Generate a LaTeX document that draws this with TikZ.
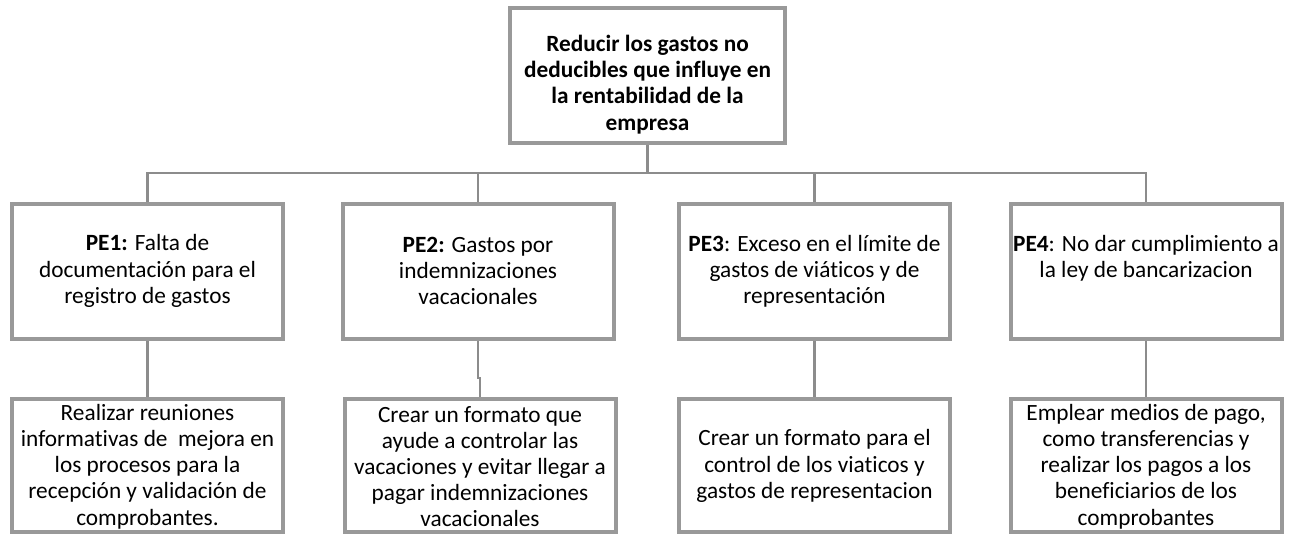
\documentclass[tikz,border=0pt]{standalone}
\usepackage{fontspec}
\setmainfont{Carlito}[Ligatures=NoCommon]
\definecolor{boxgray}{HTML}{999999}
\definecolor{linegray}{HTML}{8C8C8C}
\begin{document}
\begin{tikzpicture}[x=1pt,y=1pt,
  box/.style={draw=boxgray, line width=4pt, inner sep=0pt,
    minimum width=271pt, minimum height=133pt},
  txt/.style={align=center, inner sep=0pt, font=\fontsize{23.3}{26.2}\selectfont},
  conn/.style={draw=linegray, line width=2.5pt}]
\useasboundingbox (0,0) rectangle (1294,-535);
% frames
\node[box, minimum width=275pt, minimum height=135pt] (top) at (647.5,-75.5) {};
\node[box, minimum height=135pt] (pe1) at (147.5,-271.5) {};
\node[box, minimum height=135pt] (pe2) at (478,-271.5) {};
\node[box, minimum height=135pt] (pe3) at (814.5,-271.5) {};
\node[box, minimum height=135pt] (pe4) at (1146,-271.5) {};
\node[box] (s1) at (147.5,-465.5) {};
\node[box] (s2) at (480,-465.5) {};
\node[box] (s3) at (814.5,-465.5) {};
\node[box] (s4) at (1146,-465.5) {};
% texts
\node[txt, font=\fontsize{23.3}{26.2}\selectfont\bfseries] (ttop) at (647.5,-84.5)
  {Reducir los gastos no\\ deducibles que influye en\\ la rentabilidad de la\\ empresa};
\node[txt] (tpe1) at (147.5,-271)
  {\textbf{PE1:} Falta de\\ documentación para el\\ registro de gastos};
\node[txt] (tpe2) at (478,-271)
  {\textbf{PE2:} Gastos por\\ indemnizaciones\\ vacacionales};
\node[txt] (tpe3) at (814.5,-271)
  {\textbf{PE3}: Exceso en el límite de\\ gastos de viáticos y de\\ representación};
\node[txt] (tpe4) at (1146,-258)
  {\textbf{PE4}: No dar cumplimiento a\\ la ley de bancarizacion};
\node[txt] (ts1) at (147.5,-466.5)
  {Realizar reuniones\\ informativas de \ mejora en\\ los procesos para la\\ recepción y validación de\\ comprobantes.};
\node[txt] (ts2) at (480,-466.5)
  {Crear un formato que\\ ayude a controlar las\\ vacaciones y evitar llegar a\\ pagar indemnizaciones\\ vacacionales};
\node[txt] (ts3) at (814.5,-466)
  {Crear un formato para el\\ control de los viaticos y\\ gastos de representacion};
\node[txt] (ts4) at (1146,-466.5)
  {Emplear medios de pago,\\ como transferencias y\\ realizar los pagos a los\\ beneficiarios de los\\ comprobantes};
% connectors
\coordinate (j) at (647.5,-173);
\draw[conn] (top.south) -- (j);
\draw[conn] (pe1.north) |- (pe4.north |- j) -- (pe4.north);
\draw[conn] (pe2.north) -- (pe2.north |- j);
\draw[conn] (pe3.north) -- (pe3.north |- j);
\draw[conn] (pe1.south) -- (s1.north);
\draw[conn] (pe2.south) -- ++(0,-37) -| (s2.north);
\draw[conn] (pe3.south) -- (s3.north);
\draw[conn] (pe4.south) -- (s4.north);
\end{tikzpicture}
\end{document}
